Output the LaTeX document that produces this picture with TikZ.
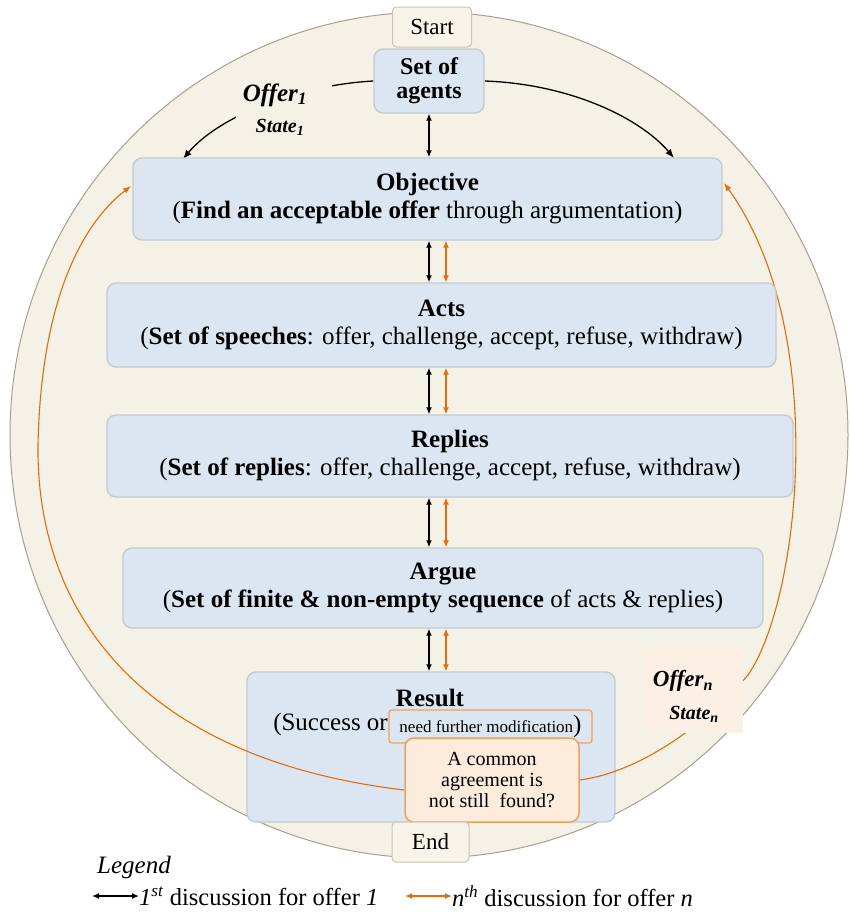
\documentclass[tikz,border=0pt]{standalone}
\usepackage{fontspec}
\setmainfont{Liberation Serif}
\usetikzlibrary{arrows.meta}
\definecolor{bgfill}{HTML}{F4F1E6}
\definecolor{bgline}{HTML}{A89F8E}
\definecolor{boxblue}{HTML}{DCE6F2}
\definecolor{boxline}{HTML}{C3CBCF}
\definecolor{sefill}{HTML}{F7F4EA}
\definecolor{seline}{HTML}{CBC5B6}
\definecolor{orng}{HTML}{E46C0A}
\definecolor{peach}{HTML}{FDEBDB}
\definecolor{lpeach}{HTML}{FCF0E4}
\definecolor{orline}{HTML}{F0A058}
\pgfdeclarelayer{back}
\pgfdeclarelayer{mid}
\pgfsetlayers{back,mid,main}
\begin{document}
\begin{tikzpicture}[x=1pt,y=-1pt,
  bluebox/.style={draw=boxline, line width=1.4pt, fill=boxblue, rounded corners=9pt, align=center, inner sep=0pt},
  sebox/.style={draw=seline, line width=1pt, fill=sefill, rounded corners=4pt, inner sep=0pt, font=\fontsize{23}{25}\selectfont},
  boxfont/.style={font=\fontsize{25}{28}\selectfont},
  dblk/.style={{Latex[length=7pt,width=6pt]}-{Latex[length=7pt,width=6pt]}, line width=1.3pt, draw=black},
  dbor/.style={{Latex[length=7pt,width=6pt]}-{Latex[length=7pt,width=6pt]}, line width=1.3pt, draw=orng},
  curv/.style={-{Latex[length=9pt,width=7pt]}, line width=1.3pt},
  orarc/.style={draw=orng, line width=1.1pt},
  orarr/.style={orarc, -{Latex[length=8pt,width=6pt]}},
  plain/.style={inner sep=0pt},
]
\useasboundingbox (0,0) rectangle (850,913);
\begin{pgfonlayer}{back}
\draw[fill=bgfill, draw=bgline, line width=1pt] (429,435) ellipse [x radius=419pt, y radius=423pt];
\node[bluebox, minimum width=368pt, minimum height=150pt] (result) at (431,747) {};
\end{pgfonlayer}

% boxes
\node[sebox, minimum width=79pt, minimum height=40pt] (start) at (432,27) {Start};
\node[bluebox, minimum width=110pt, minimum height=64pt, font=\bfseries\fontsize{24}{24}\selectfont] (agents) at (429,81) {Set of\\agents};
\node[bluebox, boxfont, minimum width=589pt, minimum height=82pt] (obj) at (427.5,199) {\textbf{Objective}\\(\textbf{Find an acceptable offer} through argumentation)};
\node[bluebox, boxfont, minimum width=669pt, minimum height=84pt] (acts) at (441.5,325) {\textbf{Acts}\\(\textbf{Set of speeches}: offer, challenge, accept, refuse, withdraw)};
\node[bluebox, boxfont, minimum width=686pt, minimum height=82pt] (replies) at (450,456) {\textbf{Replies}\\(\textbf{Set of replies}: offer, challenge, accept, refuse, withdraw)};
\node[bluebox, boxfont, minimum width=640pt, minimum height=80pt] (argue) at (443,588) {\textbf{Argue}\\(\textbf{Set of finite \& non-empty sequence} of acts \& replies)};

\node[plain, font=\bfseries\fontsize{25}{28}\selectfont] (resultT) at (430,698) {Result};
\node[plain, anchor=east, font=\fontsize{25}{28}\selectfont] (success) at (388,724) {(Success or};
\node[draw=orline, line width=1.2pt, fill=boxblue, rounded corners=3pt, minimum width=203pt, minimum height=33pt, inner sep=0pt] (nfm) at (490.5,726.5) {\fontsize{17}{19}\selectfont need further modification\fontsize{25}{28}\selectfont)};
\node[draw=orline, line width=1.5pt, fill=peach, rounded corners=9pt, minimum width=174pt, minimum height=84pt, inner sep=0pt, align=center, font=\fontsize{20}{21}\selectfont] (common) at (492,780) {A common\\agreement is\\not still\ \ found?};
\node[sebox, minimum width=77pt, minimum height=40pt] (end) at (430.5,842) {End};

% cover for Offer1 label
\node[fill=bgfill, minimum width=96pt, minimum height=56pt, inner sep=0pt] (cover1) at (284,107) {};
\node[plain, font=\bfseries\itshape\fontsize{25}{27}\selectfont] (offer1) at (275,95) {Offer\textsubscript{1}};
\node[plain, font=\bfseries\itshape\fontsize{20}{22}\selectfont] (state1) at (280,127) {State\textsubscript{1}};

% peach label box
\node[fill=lpeach, minimum width=101pt, minimum height=86pt, inner sep=0pt] (offernbox) at (692.5,690) {};
\node[plain, font=\bfseries\itshape\fontsize{23}{25}\selectfont] (offern) at (683,681) {Offer\textsubscript{n}};
\node[plain, font=\bfseries\itshape\fontsize{20}{22}\selectfont] (staten) at (694,714) {State\textsubscript{n}};

% legend
\node[plain, font=\itshape\fontsize{25}{27}\selectfont] (legend) at (134,867) {Legend};
\node[plain, anchor=west, font=\fontsize{24.5}{27}\selectfont] (leg1) at (139,896) {\textit{1}\textsuperscript{\textit{st}} discussion for offer \textit{1}};
\node[plain, anchor=west, font=\fontsize{24.5}{27}\selectfont] (leg2) at (452,896) {\textit{n}\textsuperscript{\textit{th}} discussion for offer \textit{n}};
\coordinate (l1) at (92,896);
\coordinate (l2) at (405,896);
\draw[dblk] (l1) -- (leg1.west);
\draw[dbor] (l2) -- (leg2.west);

% curves behind boxes
\begin{pgfonlayer}{mid}
\draw[curv] (agents.west) .. controls (300,85) and (220,115) .. (183,159);
\draw[curv] (agents.east) .. controls (570,84) and (640,118) .. (674,158);
\draw[orarr] ([yshift=-10pt]common.west) .. controls (150,760) and (36,620) .. (38,445) .. controls (41,300) and (82,224) .. (131,186);
\draw[orarr] (common.east) .. controls (640,772) and (705,725) .. (748,675) .. controls (800,600) and (830,330) .. (724,183);
\end{pgfonlayer}

% double arrows
\coordinate (ka) at (429,0);
\coordinate (ko) at (446,0);
\draw[dblk] (agents.south -| ka) -- (obj.north -| ka);
\draw[dblk] (obj.south -| ka) -- (acts.north -| ka);
\draw[dbor] (obj.south -| ko) -- (acts.north -| ko);
\draw[dblk] (acts.south -| ka) -- (replies.north -| ka);
\draw[dbor] (acts.south -| ko) -- (replies.north -| ko);
\draw[dblk] (replies.south -| ka) -- (argue.north -| ka);
\draw[dbor] (replies.south -| ko) -- (argue.north -| ko);
\draw[dblk] (argue.south -| ka) -- (result.north -| ka);
\draw[dbor] (argue.south -| ko) -- (result.north -| ko);
\end{tikzpicture}
\end{document}
